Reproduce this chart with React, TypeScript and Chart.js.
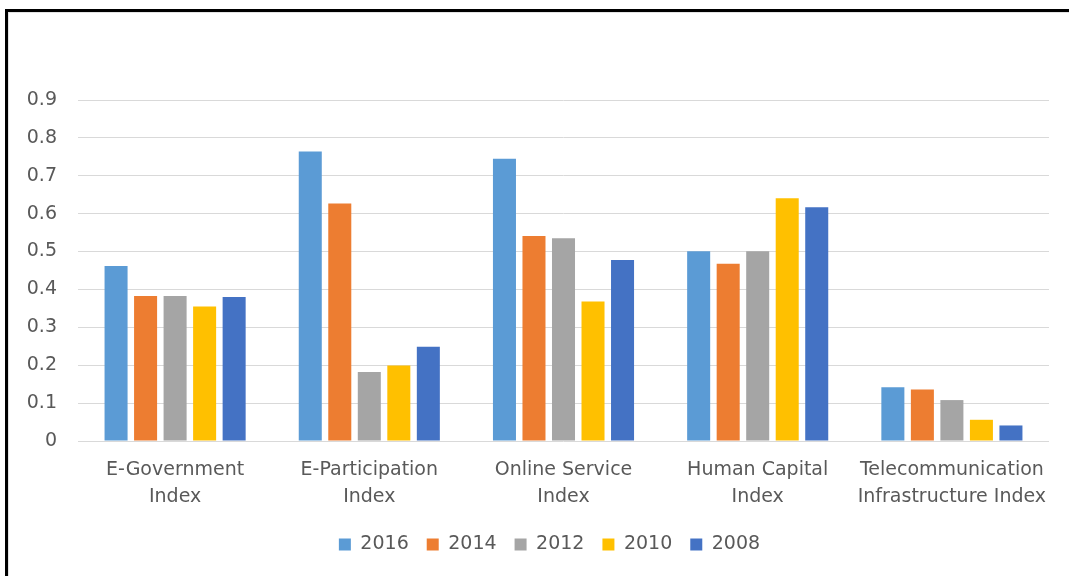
import React, { useEffect, useRef } from "react";
import { Chart, registerables } from "chart.js";

Chart.register(...registerables);

const categories: string[][] = [
  ["E-Government", "Index"],
  ["E-Participation", "Index"],
  ["Online Service", "Index"],
  ["Human Capital", "Index"],
  ["Telecommunication", "Infrastructure Index"],
];

const years = ["2016", "2014", "2012", "2010", "2008"];
const values2016 = [0.462, 0.764, 0.745, 0.501, 0.142];
const values2014 = [0.383, 0.627, 0.541, 0.468, 0.136];
const values2012 = [0.383, 0.182, 0.535, 0.501, 0.108];
const values2010 = [0.355, 0.199, 0.368, 0.641, 0.056];
const values2008 = [0.380, 0.249, 0.478, 0.617, 0.041];
const colors = ["#5B9BD5", "#ED7D31", "#A5A5A5", "#FFC000", "#4472C4"];

const FONT = "'DejaVu Sans', sans-serif";
const TEXT = "#595959";

const legendShift = {
  id: "legendShift",
  afterLayout(chart: any) {
    if (chart.legend) {
      chart.legend.left += 25;
      chart.legend.right += 25;
    }
  },
};

export default function App() {
  const ref = useRef<HTMLCanvasElement | null>(null);

  useEffect(() => {
    if (!ref.current) return;
    const series = [values2016, values2014, values2012, values2010, values2008];
    const chart = new Chart(ref.current, {
      type: "bar",
      data: {
        labels: categories,
        datasets: years.map((y, i) => ({
          label: y,
          data: series[i],
          backgroundColor: colors[i],
          borderWidth: 0,
          categoryPercentage: 0.76,
          barPercentage: 0.78,
        })),
      },
      options: {
        animation: false,
        responsive: false,
        maintainAspectRatio: false,
        layout: { padding: { left: 0, right: 20, top: 100, bottom: 12 } },
        plugins: {
          legend: {
            position: "bottom",
            labels: {
              boxWidth: 12,
              boxHeight: 12,
              padding: 18,
              color: TEXT,
              font: { family: FONT, size: 19 },
            },
          },
          tooltip: { enabled: false },
        },
        scales: {
          x: {
            grid: { display: false },
            border: { display: false },
            ticks: {
              color: TEXT,
              font: { family: FONT, size: 19, lineHeight: 1.42 },
              padding: 8,
              maxRotation: 0,
              autoSkip: false,
            },
            afterFit: (scale: any) => {
              scale.height = 76;
            },
          },
          y: {
            min: 0,
            max: 0.9,
            grid: { color: "#D9D9D9", lineWidth: 1, drawTicks: false },
            border: { display: false },
            ticks: {
              stepSize: 0.1,
              color: TEXT,
              padding: 21,
              font: { family: FONT, size: 19 },
              callback: (v: any) => {
                const n = Math.round(Number(v) * 10) / 10;
                return n === 0 ? "0" : n.toFixed(1);
              },
            },
            afterFit: (scale: any) => {
              scale.width = 78;
            },
          },
        },
      },
      plugins: [legendShift],
    });
    return () => chart.destroy();
  }, []);

  return (
    <div style={{ position: "fixed", left: 0, top: 0, width: 1069, height: 576, background: "#fff", overflow: "hidden" }}>
      <canvas ref={ref} width={1069} height={576} style={{ position: "absolute", left: 0, top: 0, width: 1069, height: 576 }} />
      <div
        style={{
          position: "absolute",
          left: 5,
          top: 9,
          width: 1200,
          height: 700,
          borderTop: "3px solid #000",
          borderLeft: "3px solid #000",
          pointerEvents: "none",
        }}
      />
      <div
        style={{
          position: "absolute",
          left: 8,
          top: 12,
          width: 1200,
          height: 700,
          borderTop: "1px solid #E3E3E3",
          borderLeft: "1px solid #E3E3E3",
          pointerEvents: "none",
        }}
      />
    </div>
  );
}
